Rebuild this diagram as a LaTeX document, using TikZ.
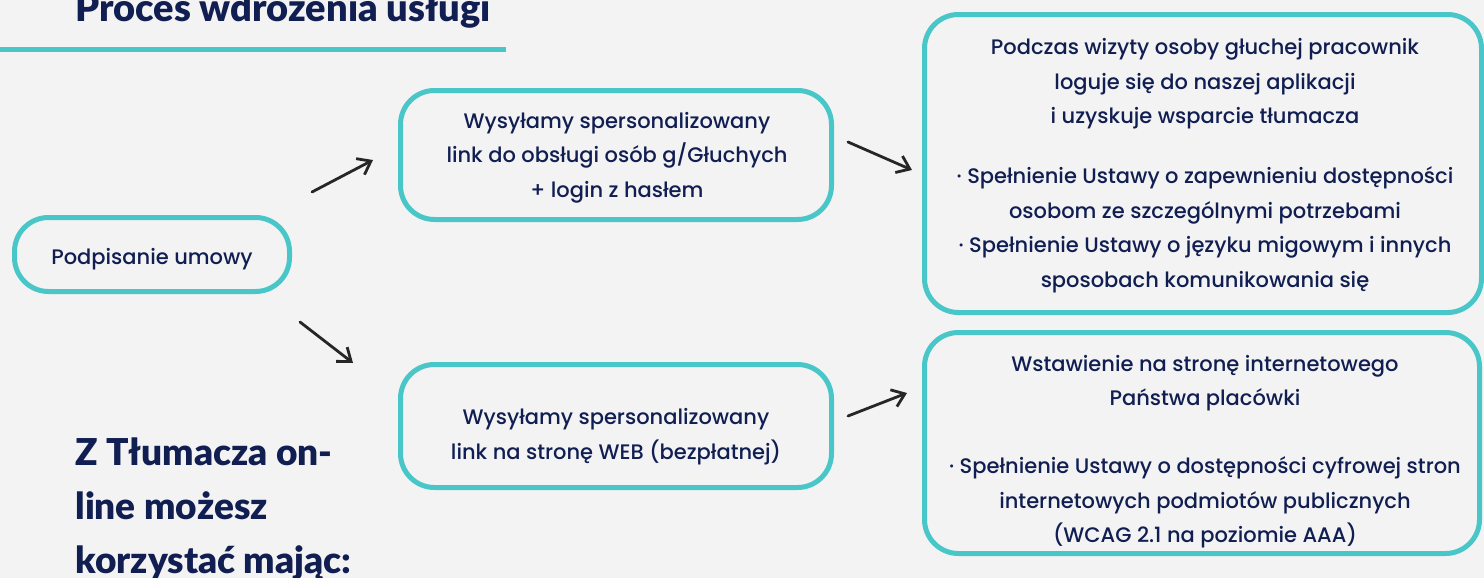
\documentclass[tikz,border=0pt]{standalone}
\usepackage{fontspec}
\setmainfont{Poppins}[UprightFont={* Medium}]
\newfontfamily\headfont{Lato}[BoldFont={* Black}]
\usetikzlibrary{arrows.meta}

\definecolor{tealline}{RGB}{72,198,200}
\definecolor{navytext}{RGB}{16,30,82}
\definecolor{bggray}{RGB}{243,243,243}

\begin{document}
\begin{tikzpicture}[x=0.5pt, y=-0.5pt,
        stepbox/.style={draw=tealline, line width=2.5pt, rounded corners=17pt, inner sep=0pt},
        boxtext/.style={align=center, text=navytext, inner sep=0pt, font=\fontsize{10.5}{17.2}\selectfont},
        pointer/.style={-{Straight Barb[length=6pt, width=9pt]}, line width=1.4pt, black!85, line cap=round},
        heading/.style={text=navytext, font=\headfont\bfseries\fontsize{18.5}{27}\selectfont, inner sep=0pt}]
        \fill[bggray] (0,0) rectangle (1484,578);
        \useasboundingbox (0,0) rectangle (1484,578);

        % title
        \node[heading, font=\headfont\bfseries\fontsize{19}{20}\selectfont, anchor=base west] (title) at (75,21) {Proces wdrożenia usługi};
        \draw[tealline, line width=2.5pt] (0,49.5) -- (506,49.5);

        % boxes
        \node[stepbox, minimum width=137.5pt, minimum height=37pt] (sign) at (152,254.5) {};
        \node[stepbox, minimum width=215.5pt, minimum height=64.5pt] (link) at (616,155) {};
        \node[stepbox, minimum width=215.5pt, minimum height=61.5pt] (web) at (616,426) {};
        \node[stepbox, minimum width=278.5pt, minimum height=149pt] (visit) at (1203,163.5) {};
        \node[stepbox, minimum width=277.5pt, minimum height=110.5pt] (site) at (1202,443) {};

        % box texts
        \node[boxtext] (signtext) at (152,259.5) {Podpisanie umowy};
        \node[boxtext] (linktext) at (617,157.5) {Wysyłamy spersonalizowany\\ link do obsługi osób g/Głuchych\\ + login z hasłem};
        \node[boxtext] (webtext) at (616,436.5) {Wysyłamy spersonalizowany\\ link na stronę WEB (bezpłatnej)};
        \node[boxtext] (visittext) at (1205,165.5) {Podczas wizyty osoby głuchej pracownik\\ loguje się do naszej aplikacji\\ i uzyskuje wsparcie tłumacza\\[13pt] · Spełnienie Ustawy o zapewnieniu dostępności\\ osobom ze szczególnymi potrzebami\\ · Spełnienie Ustawy o języku migowym i innych\\ sposobach komunikowania się};
        \node[boxtext] (sitetext) at (1205,451.5) {Wstawienie na stronę internetowego\\ Państwa placówki\\[17pt] · Spełnienie Ustawy o dostępności cyfrowej stron\\ internetowych podmiotów publicznych\\ (WCAG 2.1 na poziomie AAA)};

        \node[heading, anchor=north west, align=left] (online) at (75,437) {Z Tłumacza on-\\ line możesz\\ korzystać mając:};

        % arrows
        \coordinate (a1) at (312,192);
        \coordinate (a1e) at (373,160);
        \coordinate (a2) at (300,322);
        \coordinate (a2e) at (353,363);
        \coordinate (a3) at (848,142);
        \coordinate (a3e) at (912,170);
        \coordinate (a4) at (848,416);
        \coordinate (a4e) at (907,393);
        \draw[pointer] (a1) -- (a1e);
        \draw[pointer] (a2) -- (a2e);
        \draw[pointer] (a3) -- (a3e);
        \draw[pointer] (a4) -- (a4e);
\end{tikzpicture}
\end{document}
